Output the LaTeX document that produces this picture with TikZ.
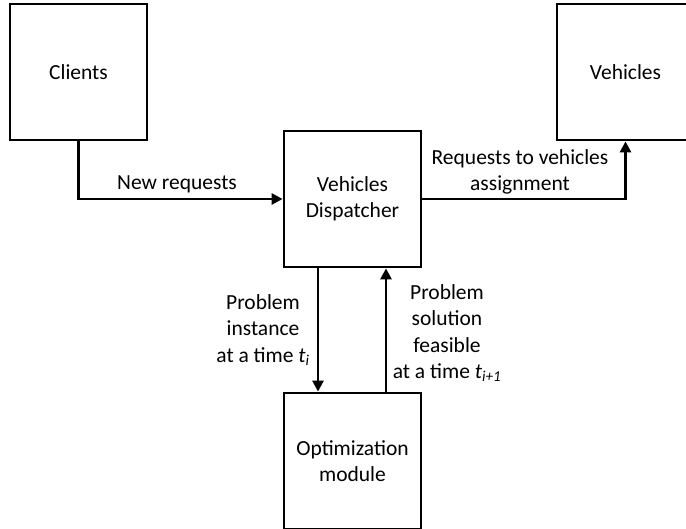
\documentclass[tikz,border=0pt]{standalone}
\usepackage{fontspec}
\setmainfont{Carlito}
\usetikzlibrary{arrows.meta}
\begin{document}
\begin{tikzpicture}[x=1pt,y=-1pt,
  every node/.style={font=\fontsize{21.5}{26.5}\selectfont},
  blockbox/.style={draw=black, line width=2.8pt, minimum width=137pt, minimum height=136pt, align=center, inner sep=0pt},
  conn/.style={line width=2.8pt, -{Triangle[length=11pt,width=11pt]}},
  lbl/.style={align=center, inner sep=0pt}]
\useasboundingbox (0,0) rectangle (686,529);
\node[blockbox] (C) at (78.5,72) {Clients};
\node[blockbox] (V) at (625.5,72) {Vehicles};
\node[blockbox] (D) at (352.5,199) {Vehicles\\Dispatcher};
\node[blockbox] (O) at (352.5,461) {Optimization\\module};
\draw[conn] (C.south) |- (D.west);
\draw[conn] (D.east) -| (V.south);
\draw[conn] ([xshift=-34.5pt]D.south) -- ([xshift=-34.5pt]O.north);
\draw[conn] ([xshift=33.5pt]O.north) -- ([xshift=33.5pt]D.south);
\node[lbl] (nr) at (177,184) {New requests};
\node[lbl] (ra) at (520,172) {Requests to vehicles\\assignment};
\node[lbl] (pi) at (263,330) {Problem\\instance\\at a time \textit{t\textsubscript{i}}};
\node[lbl] (ps) at (447,333) {Problem\\solution\\feasible\\at a time \textit{t\textsubscript{i+1}}};
\end{tikzpicture}
\end{document}
